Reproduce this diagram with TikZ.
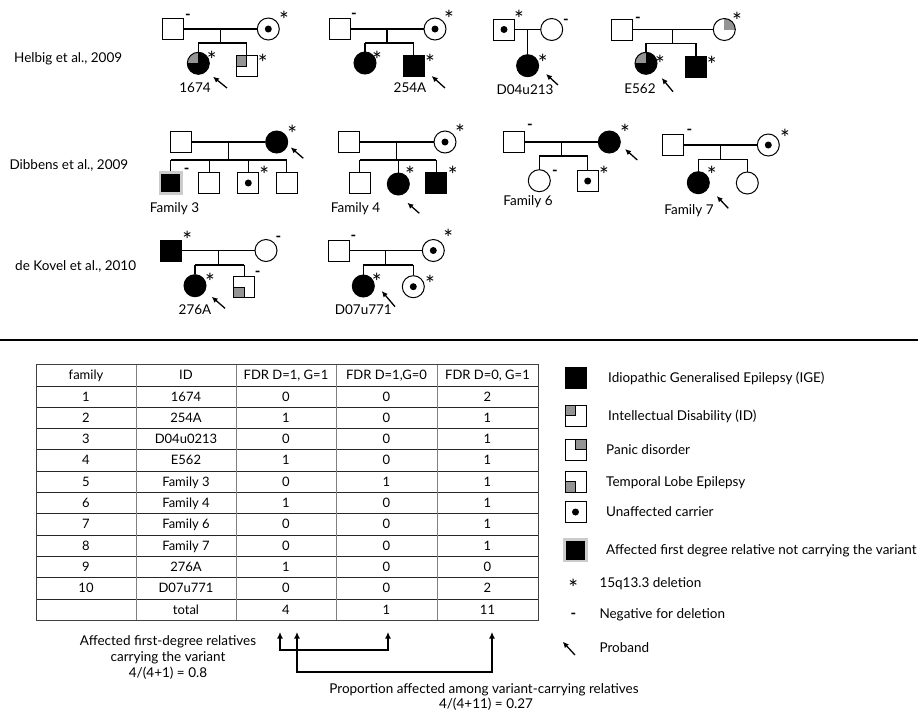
\documentclass[tikz,border=0pt]{standalone}
\usepackage{fontspec}
\setmainfont{Lato}
\usetikzlibrary{arrows.meta,calc}
\definecolor{qgray}{gray}{0.58}
\definecolor{halogray}{gray}{0.8}
\definecolor{vgray}{gray}{0.5}
\newcommand{\dmark}[3]{\node[delmark] (#1) at (#2,#3) {*};}
\newcommand{\nmark}[3]{\node[negmark] (#1) at (#2,#3) {-};}
\newcommand{\proband}[5]{\coordinate (#1a) at (#2,#3); \coordinate (#1b) at (#4,#5); \draw[probarrow] (#1a) -- (#1b);}
\begin{document}
\begin{tikzpicture}[x=1pt,y=-1pt,
  pline/.style={line width=1.3pt},
  symb/.style={draw=black, line width=1pt, inner sep=0pt, fill=white},
  male/.style={symb, rectangle, minimum size=21pt},
  female/.style={symb, circle, minimum size=22pt},
  aff/.style={fill=black},
  carrier/.style={path picture={\fill[black] (path picture bounding box.center) circle (3.5pt);}},
  halo/.style={fill=black, draw=halogray, line width=2.6pt, minimum size=21.5pt},
  sqTL/.style={path picture={\fill[qgray] (path picture bounding box.center) rectangle (path picture bounding box.north west);
     \draw[line width=0.8pt] (path picture bounding box.center) -- (path picture bounding box.center |- path picture bounding box.north)
       (path picture bounding box.center) -- (path picture bounding box.center -| path picture bounding box.west);}},
  sqTR/.style={path picture={\fill[qgray] (path picture bounding box.center) rectangle (path picture bounding box.north east);
     \draw[line width=0.8pt] (path picture bounding box.center) -- (path picture bounding box.center |- path picture bounding box.north)
       (path picture bounding box.center) -- (path picture bounding box.center -| path picture bounding box.east);}},
  sqBL/.style={path picture={\fill[qgray] (path picture bounding box.center) rectangle (path picture bounding box.south west);
     \draw[line width=0.8pt] (path picture bounding box.center) -- (path picture bounding box.center |- path picture bounding box.south)
       (path picture bounding box.center) -- (path picture bounding box.center -| path picture bounding box.west);}},
  cTL/.style={path picture={\fill[qgray] (path picture bounding box.center) rectangle (path picture bounding box.north west);}},
  cTR/.style={path picture={\fill[qgray] (path picture bounding box.center) rectangle (path picture bounding box.north east);}},
  delmark/.style={anchor=base, yshift=-13.3pt, inner sep=0pt, font=\fontsize{23}{23}\selectfont},
  negmark/.style={anchor=base, yshift=-4.3pt, inner sep=0pt, font=\bfseries\fontsize{15}{15}\selectfont},
  probarrow/.style={line width=1.3pt, -{Latex[length=6pt,width=5.5pt]}},
  lbl/.style={anchor=base, yshift=-4.6pt, inner sep=0pt, font=\fontsize{13.5}{15}\selectfont},
  lblw/.style={lbl, anchor=base west},
  tcell/.style={anchor=base, yshift=-4.4pt, inner sep=0pt, font=\fontsize{13}{15}\selectfont},
  brk/.style={line width=1.5pt, {Latex[length=6.5pt,width=6pt]}-{Latex[length=6.5pt,width=6pt]}},
]
\useasboundingbox (0,0) rectangle (918,710);
\fill[white] (0,0) rectangle (918,710);

% ---------- left labels
\node[lblw] (g1) at (14,58) {Helbig et al., 2009};
\node[lblw] (g2) at (9.3,165) {Dibbens et al., 2009};
\node[lblw] (g3) at (15,266) {de Kovel et al., 2010};

% ---------- P1: 1674
\node[male] (f1) at (172.5,29) {};
\node[female,carrier] (m1) at (268.3,29) {};
\node[female,aff,cTL] (k1a) at (198.3,63.3) {};
\node[male,sqTL] (k1b) at (246.7,66.3) {};
\coordinate (d1) at ($(f1.east)!0.5!(m1.west)$);
\coordinate (s1a) at (k1a.north |- 0,43);
\coordinate (s1b) at (k1b.north |- 0,43);
\draw[pline] (f1) -- (m1) (d1) -- (d1 |- s1a) (s1a) -- (s1b) (s1a) -- (k1a.north) (s1b) -- (k1b.north);
\nmark{n1}{188}{15}
\dmark{a1m}{284}{15}
\dmark{a1a}{211.7}{55}
\dmark{a1b}{262.7}{58}
\node[lbl] (l1) at (195,88) {1674};
\proband{pa1}{227}{88}{213}{76.7}

% ---------- P2: 254A
\node[male] (f2) at (339.7,29) {};
\node[female,carrier] (m2) at (435,29) {};
\node[female,aff] (k2a) at (365,63) {};
\node[male,aff] (k2b) at (413.7,66) {};
\coordinate (d2) at ($(f2.east)!0.5!(m2.west)$);
\coordinate (s2a) at (k2a.north |- 0,43);
\coordinate (s2b) at (k2b.north |- 0,43);
\draw[pline] (f2) -- (m2) (d2) -- (d2 |- s2a) (s2a) -- (s2b) (s2a) -- (k2a.north) (s2b) -- (k2b.north);
\nmark{n2}{354}{14}
\dmark{a2m}{449}{14}
\dmark{a2a}{377}{55}
\dmark{a2b}{430}{58}
\node[lbl] (l2) at (410,88) {254A};
\proband{pa2}{445}{88}{431.7}{76}

% ---------- P3: D04u213
\node[male,carrier] (f3) at (504,29.5) {};
\node[female] (m3) at (551.7,29.5) {};
\coordinate (d3) at ($(f3.east)!0.5!(m3.west)$);
\node[female,aff] (k3) at (d3 |- 0,65.7) {};
\draw[pline] (f3) -- (m3) (d3) -- (k3.north);
\dmark{a3f}{519}{14}
\nmark{n3}{566}{20}
\dmark{a3k}{542.7}{58}
\node[lbl] (l3) at (525,90) {D04u213};
\proband{pa3}{558}{85}{546}{74}

% ---------- P4: E562
\node[male] (f4) at (621.5,29.5) {};
\node[female,cTR] (m4) at (724.3,29.5) {};
\node[female,aff,cTL] (k4a) at (646,63.3) {};
\node[male,aff] (k4b) at (696,67) {};
\coordinate (d4) at ($(f4.east)!0.5!(m4.west)$);
\coordinate (s4a) at (k4a.north |- 0,43.3);
\coordinate (s4b) at (k4b.north |- 0,43.3);
\draw[pline] (f4) -- (m4) (d4) -- (d4 |- s4a) (s4a) -- (s4b) (s4a) -- (k4a.north) (s4b) -- (k4b.north);
\nmark{n4}{638}{18}
\dmark{a4m}{737}{16}
\dmark{a4a}{660}{59}
\dmark{a4b}{711.7}{60}
\node[lbl] (l4) at (640,89) {E562};
\proband{pa4}{673}{91.7}{661.7}{78}

% ---------- P5: Family 3
\node[male] (f5) at (181,142) {};
\node[female,aff] (m5) at (276.7,142) {};
\node[male,halo] (k5a) at (170.7,183) {};
\node[male] (k5b) at (209.3,183) {};
\node[male,carrier] (k5c) at (248.3,183) {};
\node[male] (k5d) at (286.7,183) {};
\coordinate (d5) at ($(f5.east)!0.5!(m5.west)$);
\coordinate (s5a) at (k5a.north |- 0,160);
\coordinate (s5b) at (k5b.north |- 0,160);
\coordinate (s5c) at (k5c.north |- 0,160);
\coordinate (s5d) at (k5d.north |- 0,160);
\draw[pline] (f5) -- (m5) (d5) -- (d5 |- s5a) (s5a) -- (s5d)
  (s5a) -- (k5a.north) (s5b) -- (k5b.north) (s5c) -- (k5c.north) (s5d) -- (k5d.north);
\dmark{a5m}{292.3}{129}
\proband{pa5}{303.3}{158.3}{290.7}{147.3}
\nmark{n5}{186.7}{169.3}
\dmark{a5c}{264.3}{170}
\node[lbl] (l5) at (174.5,208) {Family 3};

% ---------- P6: Family 4
\node[male] (f6) at (349,142) {};
\node[female,carrier] (m6) at (445,142) {};
\node[male] (k6a) at (359.7,183) {};
\node[female,aff] (k6b) at (398.3,184) {};
\node[male,aff] (k6c) at (436.3,183) {};
\coordinate (d6) at ($(f6.east)!0.5!(m6.west)$);
\coordinate (s6a) at (k6a.north |- 0,160);
\coordinate (s6b) at (k6b.north |- 0,160);
\coordinate (s6c) at (k6c.north |- 0,160);
\draw[pline] (f6) -- (m6) (d6) -- (d6 |- s6a) (s6a) -- (s6c)
  (s6a) -- (k6a.north) (s6b) -- (k6b.north) (s6c) -- (k6c.north);
\dmark{a6m}{460}{128}
\dmark{a6b}{410}{170}
\dmark{a6c}{452.7}{170}
\node[lbl] (l6) at (355.5,208) {Family 4};
\proband{pa6}{419.3}{213.3}{407.3}{202.7}

% ---------- P7: Family 6
\node[male] (f7) at (513.5,142) {};
\node[female,aff] (m7) at (609.3,142) {};
\node[female] (k7a) at (539.3,180.7) {};
\node[male,carrier] (k7b) at (587.7,181) {};
\coordinate (d7) at ($(f7.east)!0.5!(m7.west)$);
\coordinate (s7a) at (k7a.north |- 0,156);
\coordinate (s7b) at (k7b.north |- 0,156);
\draw[pline] (f7) -- (m7) (d7) -- (d7 |- s7a) (s7a) -- (s7b) (s7a) -- (k7a.north) (s7b) -- (k7b.north);
\nmark{n7}{530}{125}
\dmark{a7m}{625}{128}
\proband{pa7}{637.3}{160}{625}{149}
\nmark{n7a}{555}{170.7}
\dmark{a7b}{604}{170}
\node[lbl] (l7) at (528,200.7) {Family 6};

% ---------- P8: Family 7
\node[male] (f8) at (673.3,145) {};
\node[female,carrier] (m8) at (768.3,145) {};
\node[female,aff] (k8a) at (698.3,182.7) {};
\node[female] (k8b) at (747.3,183) {};
\coordinate (d8) at ($(f8.east)!0.5!(m8.west)$);
\coordinate (s8a) at (k8a.north |- 0,159.3);
\coordinate (s8b) at (k8b.north |- 0,159.3);
\draw[pline] (f8) -- (m8) (d8) -- (d8 |- s8a) (s8a) -- (s8b) (s8a) -- (k8a.north) (s8b) -- (k8b.north);
\nmark{n8}{689.3}{130}
\dmark{a8m}{785}{132.7}
\dmark{a8a}{711.7}{170}
\proband{pa8}{728.3}{208.3}{716.7}{196}
\node[lbl] (l8) at (689,210) {Family 7};

% ---------- P9: 276A
\node[male,aff] (f9) at (170.8,250.5) {};
\node[female] (m9) at (266,250.5) {};
\node[female,aff] (k9a) at (195,285.7) {};
\node[male,sqBL] (k9b) at (244.2,287) {};
\coordinate (d9) at ($(f9.east)!0.5!(m9.west)$);
\coordinate (s9a) at (k9a.north |- 0,265);
\coordinate (s9b) at (k9b.north |- 0,265);
\draw[pline] (f9) -- (m9) (d9) -- (d9 |- s9a) (s9a) -- (s9b) (s9a) -- (k9a.north) (s9b) -- (k9b.north);
\dmark{a9f}{187.3}{235}
\nmark{n9}{278.3}{236.7}
\dmark{a9a}{210}{276.7}
\nmark{n9b}{257.7}{271.7}
\node[lbl] (l9) at (195,310) {276A};
\proband{pa9}{225}{308.3}{211.7}{296.7}

% ---------- P10: D07u771
\node[male] (f10) at (338.8,250.5) {};
\node[female,carrier] (m10) at (433.3,250.5) {};
\node[female,aff] (k10a) at (363.3,286) {};
\node[female,carrier] (k10b) at (413.3,286.7) {};
\coordinate (d10) at ($(f10.east)!0.5!(m10.west)$);
\coordinate (s10a) at (k10a.north |- 0,265);
\coordinate (s10b) at (k10b.north |- 0,265);
\draw[pline] (f10) -- (m10) (d10) -- (d10 |- s10a) (s10a) -- (s10b) (s10a) -- (k10a.north) (s10b) -- (k10b.north);
\nmark{n10}{353.3}{235.7}
\dmark{a10m}{448.3}{233.3}
\dmark{a10a}{376.7}{276.7}
\dmark{a10b}{430}{279}
\node[lbl] (l10) at (363.3,310) {D07u771};
\proband{pa10}{395}{306.7}{381.7}{291}

% ---------- separator
\draw[line width=1.6pt] (0,340) -- (918,340);

% ---------- table
\foreach \k in {0,...,10} \draw[line width=0.9pt, black!85] (36,{386+21.3*\k}) -- (538,{386+21.3*\k});
\foreach \x in {136,236,336,437} \draw[line width=0.9pt, vgray] (\x,364) -- (\x,620.3);
\draw[line width=0.9pt, black!75] (36,364) rectangle (538,620.3);
\node[tcell] (h1) at (86,375) {family};
\node[tcell] (h2) at (186,375) {ID};
\node[tcell] (h3) at (286,375) {FDR D=1, G=1};
\node[tcell] (h4) at (386.5,375) {FDR D=1,G=0};
\node[tcell] (h5) at (487.5,375) {FDR D=0, G=1};
\foreach \a/\b/\c/\d/\e [count=\k] in {1/1674/0/0/2, 2/254A/1/0/1, 3/D04u0213/0/0/1, 4/E562/1/0/1,
   5/Family 3/0/1/1, 6/Family 4/1/0/1, 7/Family 6/0/0/1, 8/Family 7/0/0/1, 9/276A/1/0/0,
   10/D07u771/0/0/2, {}/total/4/1/11} {
  \node[tcell] (r\k-1) at (86,{386+21.3*(\k-0.5)}) {\a};
  \node[tcell] (r\k-2) at (186,{386+21.3*(\k-0.5)}) {\b};
  \node[tcell] (r\k-3) at (286,{386+21.3*(\k-0.5)}) {\c};
  \node[tcell] (r\k-4) at (386.5,{386+21.3*(\k-0.5)}) {\d};
  \node[tcell] (r\k-5) at (487.5,{386+21.3*(\k-0.5)}) {\e};
}

% ---------- brackets
\coordinate (t1) at (280,632);
\coordinate (t2) at (297,632);
\coordinate (t3) at (388,632);
\coordinate (t4) at (492,632);
\coordinate (j1) at (334,650);
\coordinate (j2) at (394,672);
\draw[brk] (t1) |- (j1) -| (t3);
\draw[brk] (t2) |- (j2) -| (t4);
\node[lbl] (b1) at (168,641) {Affected first-degree relatives};
\node[lbl] (b2) at (168,657) {carrying the variant};
\node[lbl] (b3) at (168,673) {4/(4+1) = 0.8};
\node[lbl] (b4) at (484,689) {Proportion affected among variant-carrying relatives};
\node[lbl] (b5) at (486,703.5) {4/(4+11) = 0.27};

% ---------- legend
\node[male,aff] (L1) at (575.5,378) {};
\node[lblw] (L1t) at (608,378) {Idiopathic Generalised Epilepsy (IGE)};
\node[male,sqTL] (L2) at (575.5,415.5) {};
\node[lblw] (L2t) at (608,415.5) {Intellectual Disability (ID)};
\node[male,sqTR] (L3) at (575.5,449.7) {};
\node[lblw] (L3t) at (606,449.7) {Panic disorder};
\node[male,sqBL] (L4) at (575.5,481.7) {};
\node[lblw] (L4t) at (606,481.7) {Temporal Lobe Epilepsy};
\node[male,carrier] (L5) at (575.5,512) {};
\node[lblw] (L5t) at (606,512) {Unaffected carrier};
\node[male,halo] (L6) at (575.5,550.3) {};
\node[lblw] (L6t) at (606,550.3) {Affected first degree relative not carrying the variant};
\dmark{L7}{573.3}{583.3}
\node[lblw] (L7t) at (599.3,583.3) {15q13.3 deletion};
\nmark{L8}{573.3}{614}
\node[lblw] (L8t) at (599.3,614) {Negative for deletion};
\proband{L9}{575}{655}{562.7}{641.7}
\node[lblw] (L9t) at (599.3,648) {Proband};
\end{tikzpicture}
\end{document}
